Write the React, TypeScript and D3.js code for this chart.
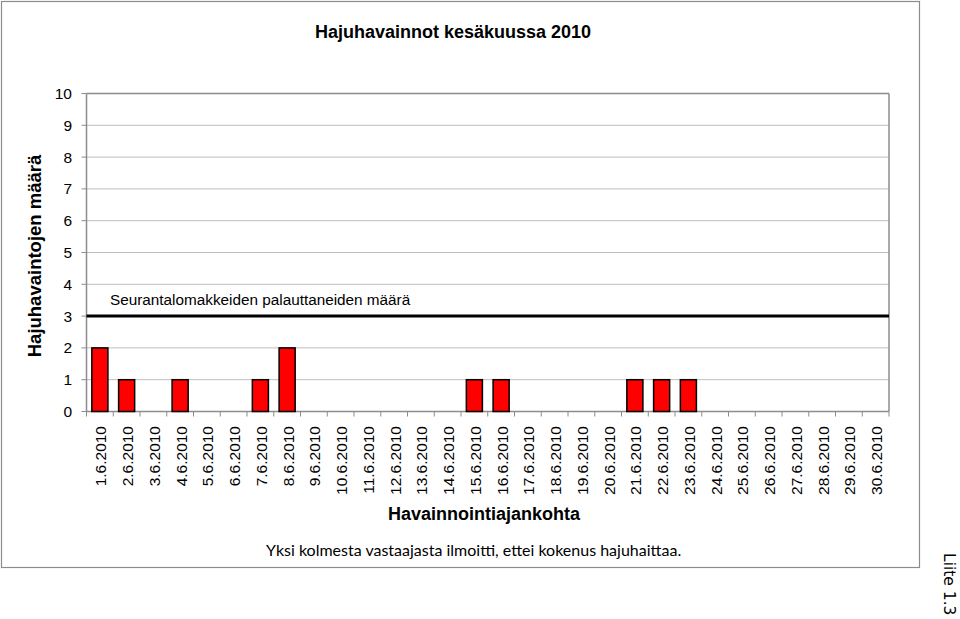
import React from "react";
import * as d3 from "d3";

const categories = [
  "1.6.2010","2.6.2010","3.6.2010","4.6.2010","5.6.2010","6.6.2010","7.6.2010","8.6.2010","9.6.2010","10.6.2010",
  "11.6.2010","12.6.2010","13.6.2010","14.6.2010","15.6.2010","16.6.2010","17.6.2010","18.6.2010","19.6.2010","20.6.2010",
  "21.6.2010","22.6.2010","23.6.2010","24.6.2010","25.6.2010","26.6.2010","27.6.2010","28.6.2010","29.6.2010","30.6.2010",
];
const values = [2,1,0,1,0,0,1,2,0,0, 0,0,0,0,1,1,0,0,0,0, 1,1,1,0,0,0,0,0,0,0];
const yTicks = [0,1,2,3,4,5,6,7,8,9,10];
const referenceValue = 3;
const referenceLabel = "Seurantalomakkeiden palauttaneiden määrä";
const title = "Hajuhavainnot kesäkuussa 2010";
const yTitle = "Hajuhavaintojen määrä";
const xTitle = "Havainnointiajankohta";
const note = "Yksi kolmesta vastaajasta ilmoitti, ettei kokenus hajuhaittaa.";
const sideNote = "Liite 1.3";

export default function App() {
  const W = 960, H = 619;
  const left = 86.5, right = 889, top = 93.5, bottom = 411.5;
  const x = d3.scaleBand<string>().domain(categories).range([left, right]).paddingInner(0.4).paddingOuter(0.2);
  const xb = d3.scaleBand<string>().domain(categories).range([left, right]);
  const y = d3.scaleLinear().domain([0, 10]).range([bottom, top]);
  const font = "Arial, 'Liberation Sans', sans-serif";

  return (
    <svg width={W} height={H} style={{ position: "absolute", left: 0, top: 0, background: "#fff" }} fontFamily={font}>
      <rect x={1.5} y={1.5} width={918} height={566} fill="#fff" stroke="#8c8c8c" strokeWidth={1.2} />
      <text x={453} y={38} textAnchor="middle" fontSize={18} fontWeight="bold">{title}</text>
      {/* gridlines */}
      {yTicks.map((t) => (
        <line key={"g" + t} x1={left} x2={right} y1={y(t)} y2={y(t)} stroke="#bdbdbd" strokeWidth={1} />
      ))}
      {/* plot border top/right */}
      <line x1={left} x2={right} y1={top} y2={top} stroke="#8c8c8c" strokeWidth={1.5} />
      <line x1={right} x2={right} y1={top} y2={bottom} stroke="#8c8c8c" strokeWidth={1.5} />
      {/* y axis */}
      <line x1={left} x2={left} y1={top} y2={bottom} stroke="#8c8c8c" strokeWidth={1.5} />
      {yTicks.map((t) => (
        <g key={"y" + t}>
          <line x1={left - 5} x2={left} y1={y(t)} y2={y(t)} stroke="#8c8c8c" strokeWidth={1} />
          <text x={72} y={y(t) + 5.5} textAnchor="end" fontSize={15.5}>{t}</text>
        </g>
      ))}
      {/* x axis */}
      <line x1={left} x2={right} y1={bottom} y2={bottom} stroke="#8c8c8c" strokeWidth={1.5} />
      {categories.map((c) => (
        <line key={"t" + c} x1={xb(c)!} x2={xb(c)!} y1={bottom} y2={bottom + 5} stroke="#8c8c8c" strokeWidth={1} />
      ))}
      <line x1={right} x2={right} y1={bottom} y2={bottom + 5} stroke="#8c8c8c" strokeWidth={1} />
      {/* bars */}
      {categories.map((c, i) =>
        values[i] > 0 ? (
          <rect key={"b" + c} x={x(c)!} y={y(values[i])} width={x.bandwidth()} height={y(0) - y(values[i])}
            fill="#ff0000" stroke="#000" strokeWidth={1.5} />
        ) : null
      )}
      {/* reference line */}
      <line x1={left} x2={right} y1={y(referenceValue)} y2={y(referenceValue)} stroke="#000" strokeWidth={3} />
      <text x={110} y={y(referenceValue) - 11} fontSize={15.3}>{referenceLabel}</text>
      {/* x labels */}
      {categories.map((c) => {
        const cx = xb(c)! + xb.bandwidth() / 2;
        return (
          <text key={"l" + c} transform={`translate(${cx + 6.5},${426}) rotate(-90)`} textAnchor="end" fontSize={15.5}>{c}</text>
        );
      })}
      <text x={484} y={520} textAnchor="middle" fontSize={18} fontWeight="bold">{xTitle}</text>
      <text transform={`translate(41,256) rotate(-90)`} textAnchor="middle" fontSize={18.5} fontWeight="bold">{yTitle}</text>
      <text x={266} y={556} fontSize={16} fontFamily="Lato, 'Open Sans', sans-serif">{note}</text>
      <text transform={`translate(944,553) rotate(90)`} fontSize={15.5} fontFamily="'DejaVu Sans', sans-serif">{sideNote}</text>
    </svg>
  );
}
